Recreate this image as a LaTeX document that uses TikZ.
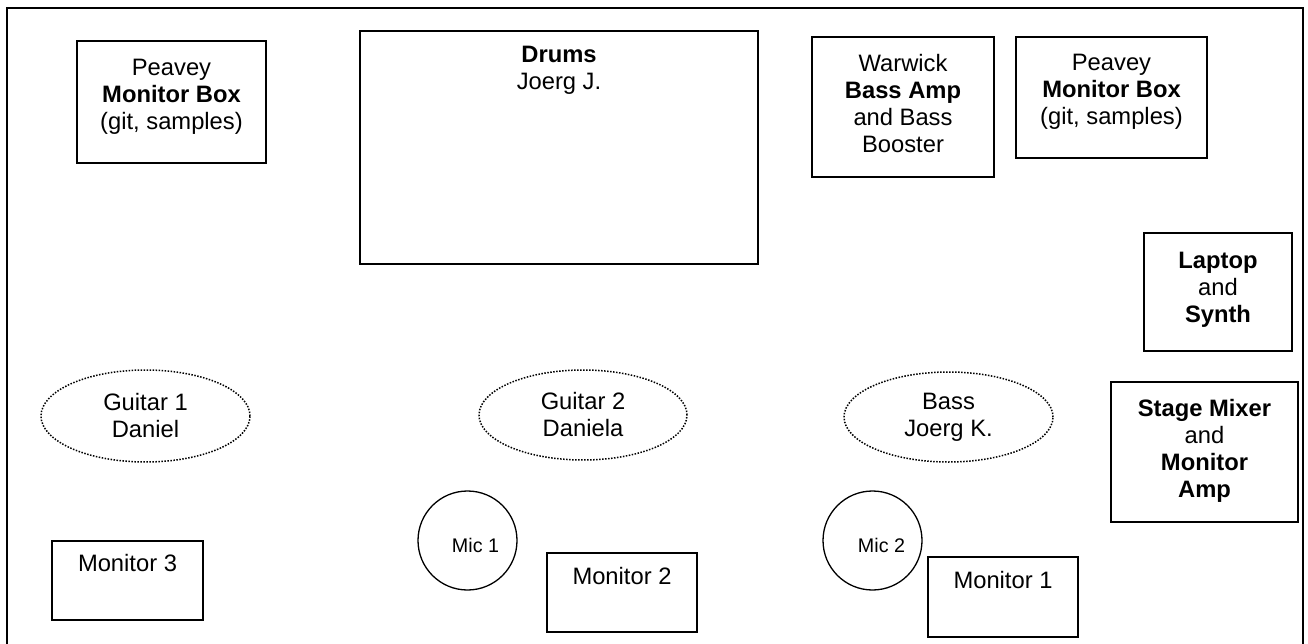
\documentclass[tikz,border=0pt]{standalone}
\usepackage{fontspec}
\setmainfont{Liberation Sans}
\usetikzlibrary{positioning, shapes.geometric}
\tikzset{
    x=1pt, y=-1pt, % one unit is one pixel of the plan, y runs downwards
    every node/.style={inner sep=0pt, font=\fontsize{23.75}{27}\selectfont}, % text like the stage plan
    box/.style 2 args={draw, line width=1.6pt, minimum width=#1, minimum height=#2}, % amps, monitors, desks
    lbl/.style={align=center}, % text at the top of a box
    player/.style={ellipse, draw, line width=1.5pt, dash pattern=on 1.5pt off 1.5pt, align=center}, % musicians
    mic/.style={circle, draw, line width=1.3pt, minimum size=99pt}, % microphones
    mictxt/.style={font=\fontsize{19.7}{23}\selectfont},
}
\begin{document}
\begin{tikzpicture}
    \useasboundingbox (0,0) rectangle (1308,644);
    \draw[line width=1.8pt] (7,660) -- (7,8) -- (1303,8) -- (1303,660);

    % back line
    \node[box={189pt}{122pt}] (peaveyL) at (171.5,102) {};
    \node[lbl, below=19pt of peaveyL.north] (peaveyLtxt) {Peavey\\\textbf{Monitor Box}\\(git, samples)};
    \node[box={398pt}{233pt}] (drums) at (559,147.5) {};
    \node[lbl, below=16pt of drums.north] (drumstxt) {\textbf{Drums}\\Joerg J.};
    \node[box={182pt}{140pt}] (warwick) at (903,107) {};
    \node[lbl, below=18pt of warwick.north] (warwicktxt) {Warwick\\\textbf{Bass Amp}\\and Bass\\Booster};
    \node[box={191pt}{121pt}] (peaveyR) at (1111.5,97.5) {};
    \node[lbl, below=18pt of peaveyR.north] (peaveyRtxt) {Peavey\\\textbf{Monitor Box}\\(git, samples)};

    % right side
    \node[box={148pt}{118pt}] (laptop) at (1218,292) {};
    \node[lbl, below=20pt of laptop.north] (laptoptxt) {\textbf{Laptop}\\and\\\textbf{Synth}};
    \node[box={187pt}{140pt}] (mixer) at (1204.5,452) {};
    \node[lbl, below=18pt of mixer.north] (mixertxt) {\textbf{Stage Mixer}\\and\\\textbf{Monitor}\\\textbf{Amp}};

    % players
    \node[player, minimum width=209pt, minimum height=92pt] (g1) at (145.5,416) {Guitar 1\\Daniel};
    \node[player, minimum width=208pt, minimum height=90pt] (g2) at (583,415) {Guitar 2\\Daniela};
    \node[player, minimum width=209pt, minimum height=90pt] (bass) at (948.5,417) {Bass\\Joerg K.};

    % front line
    \node[mic] (mic1) at (467.5,540.5) {};
    \node[mictxt] (mic1txt) at ([shift={(8pt,-4.5pt)}]mic1.center) {Mic 1};
    \node[mic] (mic2) at (872.5,540.5) {};
    \node[mictxt] (mic2txt) at ([shift={(9pt,-4.5pt)}]mic2.center) {Mic 2};
    \node[box={151pt}{79pt}] (mon3) at (127.5,580.5) {};
    \node[lbl, below=14pt of mon3.north] (mon3txt) {Monitor 3};
    \node[box={150pt}{79pt}] (mon2) at (622,592.5) {};
    \node[lbl, below=15pt of mon2.north] (mon2txt) {Monitor 2};
    \node[box={150pt}{80pt}] (mon1) at (1003,597) {};
    \node[lbl, below=15pt of mon1.north] (mon1txt) {Monitor 1};
\end{tikzpicture}
\end{document}
